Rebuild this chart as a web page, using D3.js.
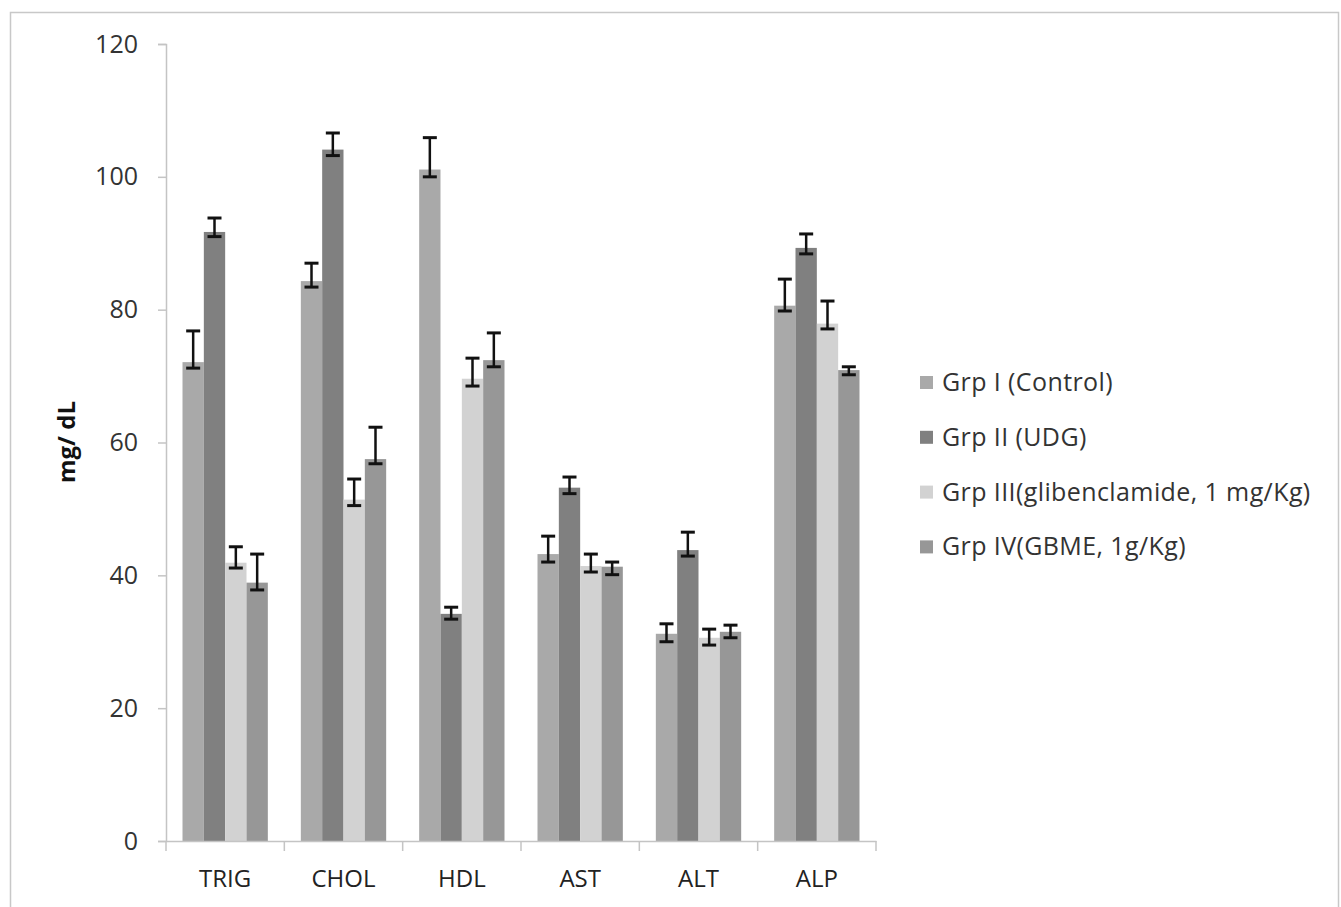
<!DOCTYPE html>
<html>
<head>
<meta charset="utf-8">
<script src="https://cdn.jsdelivr.net/npm/d3@7"></script>
<style>
body { margin:0; background:#fff; }
text { font-family: "Open Sans", "Lato", sans-serif; }
</style>
</head>
<body>
<script>
var width = 1341, height = 907;

var categories = ["TRIG", "CHOL", "HDL", "AST", "ALT", "ALP"];
var groups = ["Grp I (Control)", "Grp II (UDG)", "Grp III(glibenclamide, 1 mg/Kg)", "Grp IV(GBME, 1g/Kg)"];
var colors = ["#a9a9a9", "#808080", "#d2d2d2", "#979797"];
var yTicks = [0, 20, 40, 60, 80, 100, 120];

// bar means, one array per group, in category order
var grpI   = [72.1, 84.3, 101.1, 43.2, 31.2, 80.6];
var grpII  = [91.7, 104.1, 34.2, 53.2, 43.8, 89.3];
var grpIII = [41.9, 51.4, 69.6, 41.4, 30.6, 77.9];
var grpIV  = [38.9, 57.5, 72.4, 41.3, 31.5, 70.9];

// error bar ends (low, high)
var lowI   = [71.2, 83.4, 100.0, 42.0, 30.0, 79.8];
var lowII  = [91.0, 103.2, 33.4, 52.3, 42.9, 88.4];
var lowIII = [41.1, 50.5, 68.5, 40.5, 29.5, 77.1];
var lowIV  = [37.8, 56.8, 71.4, 40.1, 30.6, 70.2];
var highI   = [76.8, 87.0, 105.9, 45.9, 32.7, 84.6];
var highII  = [93.8, 106.6, 35.2, 54.8, 46.5, 91.4];
var highIII = [44.3, 54.5, 72.7, 43.2, 31.9, 81.3];
var highIV  = [43.2, 62.3, 76.5, 42.0, 32.5, 71.4];

var means = [grpI, grpII, grpIII, grpIV];
var lows = [lowI, lowII, lowIII, lowIV];
var highs = [highI, highII, highIII, highIV];

var rows = [];
categories.forEach(function(c, i){
	groups.forEach(function(g, j){
		rows.push({cat:c, grp:g, idx:j, v:means[j][i], lo:lows[j][i], hi:highs[j][i]});
	});
});

var svg = d3.select("body").append("svg")
	.attr("width", width)
	.attr("height", height);

svg.append("rect")
	.attr("x", 10.5).attr("y", 12.5)
	.attr("width", 1328).attr("height", 910)
	.attr("fill", "#fff").attr("stroke", "#c8c8c8").attr("stroke-width", 1.5);

var x0 = d3.scaleBand().domain(categories).range([166, 876]).padding(0);
var x1 = d3.scaleBand().domain(groups).range([16.5, x0.bandwidth() - 16.5]).padding(0);
var y = d3.scaleLinear().domain([0, 120]).range([841, 44]);

// y axis
var yAxis = svg.append("g").attr("transform", "translate(166,0)")
	.call(d3.axisLeft(y).tickValues(yTicks).tickSize(8).tickPadding(20));
yAxis.select(".domain").attr("stroke", "#c4c4c4").attr("stroke-width", 1.5);
yAxis.selectAll(".tick line").attr("stroke", "#c4c4c4").attr("stroke-width", 1.5);
yAxis.selectAll(".tick text").attr("font-size", 25).attr("fill", "#333");

// bars
svg.append("g").selectAll("rect")
	.data(rows)
	.enter().append("rect")
	.attr("x", function(d){ return x0(d.cat) + x1(d.grp); })
	.attr("y", function(d){ return y(d.v); })
	.attr("width", x1.bandwidth())
	.attr("height", function(d){ return y(0) - y(d.v); })
	.attr("fill", function(d){ return colors[d.idx]; });

// x axis
var xAxis = svg.append("g").attr("transform", "translate(0,841)")
	.call(d3.axisBottom(x0).tickSize(0).tickPadding(29));
xAxis.select(".domain").attr("stroke", "#c4c4c4").attr("stroke-width", 1.5);
xAxis.selectAll(".tick text").attr("font-size", 24).attr("fill", "#222");
svg.append("g").selectAll("line")
	.data(x0.domain().concat(["end"]))
	.enter().append("line")
	.attr("x1", function(d){ return d === "end" ? x0.range()[1] : x0(d); })
	.attr("x2", function(d){ return d === "end" ? x0.range()[1] : x0(d); })
	.attr("y1", 841).attr("y2", 851)
	.attr("stroke", "#c4c4c4").attr("stroke-width", 1.5);

// error bars
var eb = svg.append("g").selectAll("g")
	.data(rows)
	.enter().append("g")
	.attr("transform", function(d){ return "translate(" + (x0(d.cat) + x1(d.grp) + x1.bandwidth() / 2) + ",0)"; });
eb.append("line")
	.attr("y1", function(d){ return y(d.lo); })
	.attr("y2", function(d){ return y(d.hi); })
	.attr("stroke", "#111").attr("stroke-width", 2.5);
eb.append("line")
	.attr("x1", -7).attr("x2", 7)
	.attr("y1", function(d){ return y(d.lo); })
	.attr("y2", function(d){ return y(d.lo); })
	.attr("stroke", "#111").attr("stroke-width", 3);
eb.append("line")
	.attr("x1", -7).attr("x2", 7)
	.attr("y1", function(d){ return y(d.hi); })
	.attr("y2", function(d){ return y(d.hi); })
	.attr("stroke", "#111").attr("stroke-width", 3);

// y axis title
svg.append("text")
	.attr("transform", "translate(75,442) rotate(-90)")
	.attr("text-anchor", "middle")
	.attr("font-size", 24).attr("font-weight", "bold").attr("fill", "#111")
	.text("mg/ dL");

// legend
var lg = svg.append("g").selectAll("g")
	.data(groups)
	.enter().append("g")
	.attr("transform", function(d, i){ return "translate(920," + (382 + i * 54.8) + ")"; });
lg.append("rect")
	.attr("x", 0).attr("y", -6)
	.attr("width", 13).attr("height", 13)
	.attr("fill", function(d, i){ return colors[i]; });
lg.append("text")
	.attr("x", 22).attr("y", 9)
	.attr("font-size", 25).attr("letter-spacing", 0.4).attr("fill", "#333")
	.text(function(d){ return d; });
</script>
</body>
</html>
